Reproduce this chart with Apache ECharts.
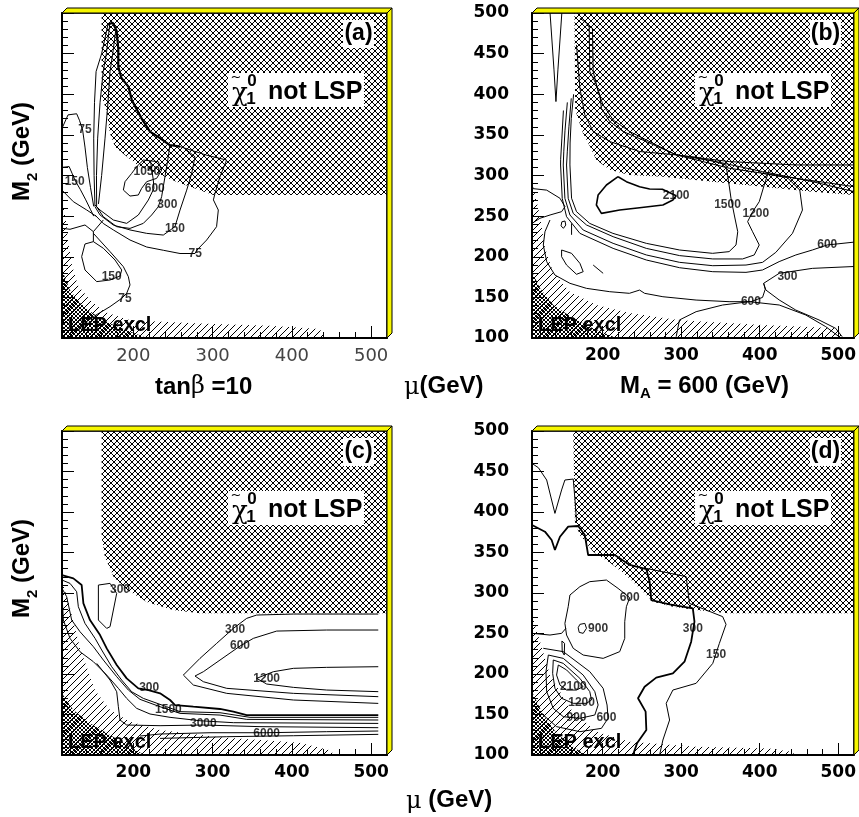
<!DOCTYPE html>
<html><head><meta charset="utf-8">
<script src="https://cdn.jsdelivr.net/npm/echarts@6/dist/echarts.min.js"></script>
<style>html,body{margin:0;padding:0;background:#fff;}#c{width:859px;height:817px;}</style>
</head><body><div id="c"></div>
<script>
// ---------- axes ----------
const X_RANGE = [110, 520];
const Y_RANGE = [100, 500];
const xMajor = [200, 300, 400, 500];
const xMinor = [120,140,160,180,220,240,260,280,320,340,360,380,420,440,460,480];
const yInterval = 50;
const panelTags = ['(a)', '(b)', '(c)', '(d)'];

// ---------- panel (a) ----------
const aLSP = [[160,500],[160,397],[166,381],[170.5,352],[177,335],[192,323],[208,311],[229,303],[255,292],[284,282],[301,276],[520,276],[520,500]];
const aLEPhatch = [[110,100],[110,274],[115,245],[117.6,221],[122.6,190],[130,165],[145,147],[164,132],[196,122],[284,118],[372,115],[435,111],[442,100]];
const aLEPdense = [[110,100],[110,184],[120,159],[132.7,143],[149.6,130],[170.6,118],[195.8,108],[217,100]];
const aThick = [[168,486],[174,488],[179,478],[181,456],[181,434],[185,420],[194,409],[198,393],[210.5,370],[221,354],[233.6,346],[246,337.5],[259,335.5]];
const a75outer = [[259,335.5],[292.5,325],[317.7,319],[309.3,298.5],[303,278],[301,270],[307.2,257.5],[305,237],[292.5,220.6],[280,208],[277.8,204],[258.9,204],[237.8,208],[216.8,212],[195.8,220.6],[174.8,233],[162,241],[151.6,251.4]];
const a150 = [[267.3,331.4],[277.8,323],[273.6,302.6],[267.3,282],[258.9,257.5],[252.5,237],[237.8,226.7],[216.8,228.8],[195.8,233],[174.8,239],[158,251.4],[151.6,261.6]];
const a300 = [[246,337.5],[244.1,323.2],[239.9,298.5],[235.7,273.9],[231.5,261.6],[223.1,251.4],[212.6,241.1],[195.8,234.9],[179,237],[162.1,249.3],[153.7,261.6]];
const a600 = [[221.8,317],[225.2,294.4],[226,284.2],[218.9,269.8],[206.3,251.4],[191.6,241.1],[174.8,245.2],[158,257.5],[151.6,263.7]];
const a1050 = [[212.6,319],[204.2,310.8],[197.9,302.6],[189.5,292.4],[187.4,282.1],[195.8,274.7],[206.3,276],[210.5,284.2],[216.8,292.4],[229.4,296.5],[235.7,306.7],[231.5,317],[212.6,319]];
const aV1 = [[168,486],[160,450],[153,428],[151,390],[150,346],[150.5,300],[151.6,262]];
const aV2 = [[170,484],[166,450],[162,428],[158,390],[155,346],[153.5,300],[153.7,262]];
const aV3 = [[178,480],[174,450],[170.6,428],[168,390],[164.3,346],[160,300],[156,265]];
const a75ul = [[110,358],[117.6,374.6],[128.5,376],[132,368],[136,356],[139,335],[142,310],[146,285],[150,262]];
const a150left = [[110,310],[119,311],[123,302],[127,293],[133,283],[140,270],[146,258],[150,250]];
const aLeftDiag = [[110,282],[124.3,267.8],[141.1,257.6],[153.8,249.4]];
const aX1 = [[110,235],[120.1,233.8],[139,239.1],[149.6,230.9],[162.2,245.3]];
const aX2 = [[149.6,230.9],[149.6,218.6]];
const a150low = [[149.6,218.6],[139,215.7],[134.8,200.1],[139,183.7],[153.8,169.4],[170.6,171.4],[183.2,176.3],[185.3,183.7],[176.9,196],[162.2,210.4],[149.6,218.6]];
const a75low = [[149.6,228.8],[170.6,206.3],[187.4,187.8],[193.7,175.5],[195.8,165.3],[191.6,155],[185.3,148.8],[170.6,138.6],[149.6,126.3],[132.7,114]];
const aLabels = [[278,204,'75'],[252.5,235,'150'],[242.9,264.5,'300'],[227,284,'600'],[217,305,'1050'],[139,356,'75'],[126,293,'150'],[172.7,175,'150'],[189.5,148,'75']];

// ---------- panel (b) ----------
const bLSP = [[164,500],[165,381],[175,352],[184,335.5],[192,319],[209,307],[234,300.6],[277,298.6],[340,292.4],[404,286.2],[467,280],[520,276],[520,500]];
const bLEPhatch = [[110,100],[110,292],[120,251],[126.5,211],[136.6,181.6],[158,157],[192,140.6],[234,130.8],[298,122],[403,116],[500,112],[505,100]];
const bLEPdense = [[110,100],[110,181.6],[120.2,161.1],[137.1,140.6],[162.5,124.2],[192.1,109.8],[217.5,100]];
const bSpike = [[133,500],[138,430],[140.5,391],[143,430],[148,500]];
const bh1 = [[171,493.5],[182.8,485.3],[183.6,428],[192.1,411.5],[196.3,399.2],[198.4,382.7],[209,366.4],[226,354.1],[255.6,341.8],[293.6,325.4],[361.3,317.1],[445.9,313],[520,313]];
const bh2 = [[179.4,485.3],[187,481.2],[187.9,428],[194.2,403.3],[200.6,386.8],[213.3,368.4],[234.4,354.1],[268.2,337.6],[293.6,325.4],[361.3,308.9],[445.9,296.6],[520,286.3]];
const bh3 = [[166.7,460.7],[171,407.4],[177.3,374.6],[187.9,354.1],[209,341.8],[247.1,329.5],[293.6,325.4],[344.4,317.1],[403.6,304.8],[467,292.5],[520,280.2]];
const bU1500 = [[163,400],[160,370],[158.5,340],[158.3,313],[160.4,272],[166.7,255.5],[183.6,241],[213,228.8],[255.6,216.5],[298,208.3],[340,204.2],[361,206.3],[369.8,214.5],[372,230.8],[367.6,251.4],[363.4,272],[361,288.3],[357,312.9],[340,318],[320,322],[293.6,325.4]];
const bU1200 = [[160,395],[157,360],[155,330],[154,312.9],[156.1,271.9],[162.5,253.4],[179.4,239.1],[213.3,224.7],[255.6,210.3],[298,201.4],[340.2,197.3],[378.2,197.3],[393,202.2],[399.4,214.5],[390.9,230.8],[384.6,243.2],[391,255.5],[399.4,267.8],[405.7,288.3],[412,306.7]];
const bU900 = [[155,390],[152,355],[150.5,330],[149.8,312.9],[151.9,271.9],[158.3,251.4],[175.2,232.9],[213.3,216.5],[255.6,202.2],[298,193.1],[340.2,189],[382.5,189.8],[403.6,193.1],[420.5,205.4],[441.7,228.8],[454.4,257.5],[451,282.1],[435.3,297.3],[403.6,302.6]];
const b600up = [[150,380],[148,345],[146.5,320],[146.4,312.9],[148.5,271.9],[154,249.3],[171,228.8],[213.3,210.3],[255.6,196],[298,186.5],[340.2,181.6],[382.5,180.8],[403.6,183.7],[424.7,194],[446,202.2],[467,208.3],[486,214.5],[520,218]];
const b2100 = [[219.6,298.5],[230.2,292.4],[247,286.2],[259.8,283.4],[276,283],[293.6,275.2],[289.4,269.8],[276.7,263.7],[247,260.4],[221.7,257.5],[198.4,253.4],[192,263.7],[194.2,276],[204.8,288.3],[219.6,298.5]];
const bLeftLoop = [[110,284],[128.7,282],[145.6,272],[152,261.6],[147.7,255.5],[133,251.4],[120,247.3],[110,241]];
const bTinyOval = [[148,243],[152,244],[153,239],[150,235],[147,238],[148,243]];
const bDash1 = [[160.4,241],[160.4,227]];
const bOval = [[147.7,208.3],[160.4,204.2],[171,191.9],[175.2,181.6],[166.7,178.4],[154,189.8],[147.7,200.1],[147.7,208.3]];
const bDash2 = [[187.9,189.8],[200.6,179.6]];
const bMid = [[132.9,245.2],[126.5,230.8],[124.4,214.4],[128.7,194],[139.2,177.5],[158.3,167.3],[179.4,161.1],[209,157],[234,155],[247,159],[253.4,155],[276.7,150.8],[319,146.7],[361,144.7],[388.8,144.7],[403.6,150],[407,160],[405,167.3]];
const b300 = [[405,167.3],[424.8,179.6],[467,185.7],[520,188]];
const b300low = [[405,167.3],[407.8,159.1],[424.8,146.8],[445.9,134.4],[475.5,122.2],[496.7,111.9],[505,101.6]];
const b600low = [[293.6,101.6],[297.8,122.2],[319,132.4],[352.8,140.6],[386.7,144.7],[424.8,140.6],[458.6,128.3],[484,114],[501,101.6]];
const bLabels = [[293.6,275.2,'2100'],[359,263.7,'1500'],[395,253.4,'1200'],[486,214.5,'600'],[435.3,175.5,'300'],[388.8,144.7,'600']];

// ---------- panel (c) ----------
const cLSP = [[160,500],[160,369.5],[164,345],[175,320],[192,304],[217,289],[250,279],[284,275],[520,275],[520,500]];
const cLEPhatch = [[110,100],[110,316],[120,281.7],[132.7,232],[151.6,180],[170.5,155.6],[196,141],[233.6,131],[309,122],[410,115],[448,106],[454,100]];
const cLEPdense = [[110,100],[110,176],[124.3,155.5],[145.3,139.1],[170.6,124.7],[195.8,110.3],[214,100]];
const c1 = [[110,322],[124.3,318.1],[134.8,309.8],[137,287.2],[145.3,266.6],[158,248.1],[166.4,231.6],[179,211.1],[191.6,194.6],[206.3,182.3],[219,180.2],[233.7,176.1],[246.3,167.9],[252.6,161.7],[275.7,159.6],[309.3,156.8],[326.2,153.5],[343,149.3],[509,149.3]];
const c2 = [[110,316],[120.1,311.9],[128.5,301.6],[130.6,283.1],[139,262.5],[151.7,244],[160.1,229.6],[172.7,209],[185.3,192.5],[197.9,178.1],[212.6,169.9],[242,159.6],[258.9,153.5],[309.3,152.2],[347.2,146.5],[509,146.5]];
const c3 = [[110,305.7],[115.9,295.4],[122.2,266.6],[132.7,252.2],[149.6,233.7],[162.2,217.2],[179,196.7],[193.7,180.2],[208.4,168.7],[233.7,159.6],[258.9,151.4],[309.3,149.3],[343,144],[509,143.2]];
const c4 = [[110,297.5],[111.7,266.6],[120.1,244],[132.7,227.5],[149.6,215.2],[166.4,198.7],[181.1,182.3],[191.6,169.9],[204.2,157.6],[221,150.6],[246.3,146.5],[284.1,142.3],[326.2,139.9],[509,139]];
const c3000 = [[153.8,213.1],[170.6,192.5],[179,178.1],[181.1,159.6],[183.2,143.2],[191.6,137],[233.7,136.2],[288.3,137],[359.8,135],[509,133.7]];
const c6000 = [[208.4,123.4],[233.7,125.9],[296.7,127.5],[368.2,127.5],[443.9,128.8],[509,129.6]];
const c6000b = [[233.7,120.5],[317.8,122.6],[401.9,123.8],[509,125.5]];
const c300loop = [[155.9,309.8],[170.6,311.9],[179,299.5],[174.8,279],[170.6,258.4],[166.4,256.3],[155.9,266.6],[155.9,309.8]];
const c300 = [[509,274],[401.9,274],[355.6,272.8],[343,268.7],[326.2,256.3],[305.1,237.8],[284.1,219.3],[263.1,198.7],[275.7,186.4],[317.8,176.1],[401.9,167.9],[509,163.7]];
const c600 = [[509,254.3],[443.9,254.3],[380.8,253],[351.4,244],[334.6,234.5],[309.3,217.2],[288.3,202.8],[277.8,197.5],[288.3,190.5],[317.8,182.3],[401.9,176.1],[509,172]];
const c1200 = [[509,209],[443.9,208.2],[401.9,207],[376.6,202.8],[355.6,194.6],[368.2,187.6],[401.9,183.5],[443.9,180.2],[509,178.2]];
const cLabels = [[183.2,304.5,'300'],[328.3,254.3,'300'],[334.6,234.5,'600'],[368.2,194.6,'1200'],[220,182.5,'300'],[244.2,155.5,'1500'],[288.3,138.2,'3000'],[368.2,126.7,'6000']];

// ---------- panel (d) ----------
const dLSP = [[162.5,500],[164.6,388],[171,371.6],[187.9,351],[213.3,334.6],[234.4,318],[255.6,297.5],[264,289.3],[289.4,283],[319,279],[360,275],[520,275],[520,500]];
const dLEPhatch = [[110,100],[110,273],[120.2,240],[132.9,198.7],[158.3,157.6],[192.1,128.8],[234.4,116.4],[319,110.3],[412,108],[440,104],[446,100]];
const dLEPdense = [[110,100],[110,178],[124.4,149.4],[141.3,126.7],[162.5,110.3],[178,100]];
const dSpike = [[110,460],[118.1,454.7],[128.7,439.5],[139.2,398.3],[147.7,427.2],[151.9,439.5],[162.5,440.7],[164.6,416.9],[166.7,388.1]];
const d300 = [[110,383.9],[126.5,375.7],[135,365.4],[139.2,353.1],[145.6,369.5],[156.1,381.9],[168.8,382.7],[177.3,371.6],[181.5,346.9],[215.4,346.9],[234.4,334.6],[255.6,329.6],[259.8,314],[261.9,291.3],[285.2,286],[314.8,281],[316.9,264.6],[312.7,239.9],[304.2,215.2],[289.4,200.8],[268.2,195.5],[253.4,184.3],[245,170],[254.7,153.5],[255.6,130.8],[243.7,114.4],[238.6,100]];
const d150 = [[255.6,330.4],[306.3,320.2],[310.5,287.2],[352.8,270.8],[357.1,261.3],[348.6,237.8],[340.2,213.1],[319,188.5],[289.4,180.2],[280.9,163.8],[285.2,143.2],[276.7,118.5],[272.5,100]];
const d600loop = [[158.3,297.5],[171,307.8],[183.6,314],[204.8,316],[219.6,305.7],[234.4,294.2],[230.2,283.1],[228.1,264.6],[228.1,244],[221.7,227.6],[200.6,219.3],[175.2,223.4],[162.5,231.7],[154,248.1],[151.9,262.5],[156.1,283.1],[158.3,297.5]];
const d900small = [[171,261.3],[177.3,262.5],[179.4,256.4],[175.2,250.2],[170.1,251.4],[168.8,257.2],[171,261.3]];
const dLeftLine = [[110,250.2],[132.9,248.1],[147.7,250.2],[153.2,256.4]];
const dTiny = [[148.1,240.7],[151.5,237.8],[151.1,223.4],[148.5,227.5],[148.1,240.7]];
const d2100 = [[143.5,211.1],[154,205],[166.7,192.6],[175.2,184.4],[166.7,180.2],[154,180.2],[145.6,186.4],[141.3,198.7],[143.5,211.1]];
const d1200 = [[137.1,217.3],[149.8,213.1],[171,194.6],[183.6,178.2],[185.8,167.9],[179.4,163.8],[162.5,163.8],[147.7,170],[139.2,182.3],[136.3,200.8],[137.1,217.3]];
const d900l = [[130.8,223.4],[149.8,219.3],[175.2,198.7],[190,178.2],[194.2,161.7],[190,149.4],[171,145.3],[149.8,147.3],[137.1,157.6],[128.7,178.2],[127.8,202.9],[130.8,223.4]];
const d600l = [[124.4,231.7],[149.8,227.6],[183.6,202.9],[200.6,182.3],[205.6,161.7],[206.9,145.3],[198.4,132.9],[171,128.8],[141.3,135],[124.4,149.4]];
const dLabels = [[234.4,294.2,'600'],[194.2,255.5,'900'],[314.8,255.5,'300'],[344.4,224.3,'150'],[162.5,184.4,'2100'],[173.1,165,'1200'],[166.7,146.1,'900'],[204.8,146.1,'600']];

// ---------- panel assembly ----------
const panels = [
  {lsp:aLSP, lepH:aLEPhatch, lepD:aLEPdense, labels:aLabels,
   thin:[a75outer,a150,a300,a600,a1050,aV1,aV2,aV3,a75ul,a150left,aLeftDiag,aX1,aX2,a150low,a75low],
   thick:[[aThick,2.2]]},
  {lsp:bLSP, lepH:bLEPhatch, lepD:bLEPdense, labels:bLabels,
   thin:[bSpike,bh1,bh2,bh3,bU1500,bU1200,bU900,b600up,bLeftLoop,bTinyOval,bDash1,bOval,bDash2,bMid,b300,b300low,b600low],
   thick:[[b2100,1.6]]},
  {lsp:cLSP, lepH:cLEPhatch, lepD:cLEPdense, labels:cLabels,
   thin:[c2,c3,c4,c3000,c6000,c6000b,c300loop,c300,c600,c1200],
   thick:[[c1,1.8]]},
  {lsp:dLSP, lepH:dLEPhatch, lepD:dLEPdense, labels:dLabels,
   thin:[dSpike,d150,d600loop,d900small,dLeftLine,dTiny,d2100,d1200,d900l,d600l],
   thick:[[d300,1.8]]}
];

const grids = [
  {left:62, top:13, width:325, height:325},
  {left:532, top:13, width:323, height:325},
  {left:62, top:431, width:325, height:324},
  {left:532, top:431, width:323, height:324}
];

const SANS = '"Liberation Sans", Arial, Helvetica, sans-serif';
const SERIF = '"DejaVu Serif", serif';

// crisp pixel hatch tiles
function hatchPattern(size, dirs) {
  const c = document.createElement('canvas'); c.width = size; c.height = size;
  const g = c.getContext('2d'); g.fillStyle = '#000';
  for (const d of dirs) for (let k = 0; k < size; k++) {
    if (d === '/') g.fillRect(k, size - 1 - k, 1, 1);
    else g.fillRect(k, k, 1, 1);
  }
  return {image: c, repeat: 'repeat'};
}
const PAT_LSP = hatchPattern(6, ['/', '\\']);
const PAT_LEP = hatchPattern(7, ['/']);
const PAT_DENSE = hatchPattern(4, ['/', '\\']);

const mctx = document.createElement('canvas').getContext('2d');
function textWidth(t, f) { mctx.font = f; return mctx.measureText(t).width; }
function textRun(parts) {
  let cx = 0;
  return parts.map(([t, f, dy]) => {
    const el = {type:'text', x:cx, y:dy || 0, style:{text:t, font:f, fill:'#000', verticalAlign:'middle'}};
    cx += textWidth(t, f);
    return el;
  });
}

const xAxes = [], yAxes = [], series = [];
grids.forEach((g, i) => {
  const lbl = i === 0
    ? {color:'#444', fontFamily:'DejaVu Sans', fontSize:18, fontWeight:'normal'}
    : {color:'#000', fontFamily:'DejaVu Sans', fontSize:17, fontWeight:'bold'};
  xAxes.push({gridIndex:i, type:'value', min:X_RANGE[0], max:X_RANGE[1], position:'bottom',
    axisLine:{show:true, onZero:false, lineStyle:{color:'#000', width:2}},
    axisTick:{show:true, inside:true, length:12, customValues:xMajor, lineStyle:{color:'#000', width:1}},
    axisLabel:Object.assign({show:true, customValues:xMajor, margin:9}, lbl),
    splitLine:{show:false}});
  xAxes.push({gridIndex:i, type:'value', min:X_RANGE[0], max:X_RANGE[1], position:'bottom',
    axisLine:{show:false},
    axisTick:{show:true, inside:true, length:6, customValues:xMinor, lineStyle:{color:'#000', width:1}},
    axisLabel:{show:false}, splitLine:{show:false}});
  yAxes.push({gridIndex:i, type:'value', min:Y_RANGE[0], max:Y_RANGE[1], interval:yInterval, position:'left',
    axisLine:{show:true, onZero:false, lineStyle:{color:'#000', width:2}},
    axisTick:{show:true, inside:true, length:12, lineStyle:{color:'#000', width:1}},
    minorTick:{show:true, splitNumber:5, length:6, lineStyle:{color:'#000', width:1}},
    axisLabel:{show:i % 2 === 1, margin:23, color:'#000', fontFamily:'DejaVu Sans', fontSize:17, fontWeight:'bold'},
    splitLine:{show:false}, minorSplitLine:{show:false}});
});

function polySeries(i, pts, pat) {
  return {type:'custom', xAxisIndex:2*i, yAxisIndex:i, z:1, silent:true, animation:false,
    data:[[X_RANGE[0], Y_RANGE[0]]],
    renderItem:(params, api) => ({type:'polygon', shape:{points:pts.map(p => api.coord(p))},
      style:{fill:pat, stroke:null}})};
}
function lineSeries(i, pts, w) {
  return {type:'line', xAxisIndex:2*i, yAxisIndex:i, data:pts, showSymbol:false, symbol:'none',
    lineStyle:{color:'#000', width:w}, z:3, silent:true, animation:false};
}
function overlaySeries(i) {
  const tag = panelTags[i];
  return {type:'custom', xAxisIndex:2*i, yAxisIndex:i, z:10, silent:true, animation:false,
    data:[[X_RANGE[0], Y_RANGE[0]]],
    renderItem:(params, api) => {
      const p0 = api.coord([X_RANGE[0], Y_RANGE[0]]);
      const p1 = api.coord([X_RANGE[1], Y_RANGE[1]]);
      const x0 = p0[0], y1 = p0[1], x1 = p1[0], y0 = p1[1];
      const d = 5, bx = x1 - 159, by = y0 + 60;
      const B = 'bold ';
      return {type:'group', children:[
        {type:'rect', shape:{x:bx, y:by, width:136, height:34}, style:{fill:'#fff'}},
        {type:'text', x:bx + 12, y:by + 21, style:{text:'χ', font:'26px ' + SERIF, fill:'#000', align:'center', verticalAlign:'middle'}},
        {type:'text', x:bx + 8, y:by + 5, style:{text:'~', font:'13px "DejaVu Sans"', fill:'#000', align:'center', verticalAlign:'middle'}},
        {type:'text', x:bx + 24, y:by + 8, style:{text:'0', font:B + '17px ' + SANS, fill:'#000', align:'center', verticalAlign:'middle'}},
        {type:'text', x:bx + 23, y:by + 26, style:{text:'1', font:B + '17px ' + SANS, fill:'#000', align:'center', verticalAlign:'middle'}},
        {type:'text', x:bx + 40, y:by + 19, style:{text:'not LSP', font:B + '25px ' + SANS, fill:'#000', verticalAlign:'middle'}},
        {type:'rect', shape:{x:x1 - 44, y:y0 + 7, width:31, height:28}, style:{fill:'#fff'}},
        {type:'text', x:x1 - 28.5, y:y0 + 21, style:{text:tag, font:B + '23px ' + SANS, fill:'#000', align:'center', verticalAlign:'middle'}},
        {type:'text', x:x0 + 6, y:y1 - 13, style:{text:'LEP excl', font:B + '20px ' + SANS, fill:'#000', verticalAlign:'middle'}},
        {type:'rect', shape:{x:x0, y:y0, width:x1 - x0, height:y1 - y0}, style:{fill:null, stroke:'#000', lineWidth:1.5}},
        {type:'polygon', shape:{points:[[x0, y0], [x0 + d, y0 - d], [x1 + d, y0 - d], [x1, y0]]}, style:{fill:'#f6f600', stroke:'#000', lineWidth:1}},
        {type:'polygon', shape:{points:[[x1, y0], [x1 + d, y0 - d], [x1 + d, y1 - d], [x1, y1]]}, style:{fill:'#f6f600', stroke:'#000', lineWidth:1}}
      ]};
    }};
}

panels.forEach((p, i) => {
  series.push(polySeries(i, p.lepH, PAT_LEP));
  series.push(polySeries(i, p.lepD, PAT_DENSE));
  series.push(polySeries(i, p.lsp, PAT_LSP));
  p.thin.forEach(l => series.push(lineSeries(i, l, 1)));
  p.thick.forEach(([l, w]) => series.push(lineSeries(i, l, w)));
  series.push({type:'scatter', xAxisIndex:2*i, yAxisIndex:i, z:4, silent:true, animation:false,
    symbolSize:1, itemStyle:{color:'rgba(0,0,0,0)'},
    data:p.labels.map(l => ({value:[l[0], l[1]], name:l[2]})),
    label:{show:true, position:'inside', formatter:'{b}', color:'#000', fontSize:12, fontWeight:'bold', fontFamily:'Liberation Sans'}});
  series.push(overlaySeries(i));
});

const B24 = 'bold 24px ' + SANS;
const graphic = [
  {type:'group', x:22, y:201, rotation:Math.PI / 2, children:textRun([['M', B24, 0], ['2', 'bold 15px ' + SANS, 11], [' (GeV)', B24, 0]])},
  {type:'group', x:22, y:618, rotation:Math.PI / 2, children:textRun([['M', B24, 0], ['2', 'bold 15px ' + SANS, 11], [' (GeV)', B24, 0]])},
  {type:'group', x:155, y:387, children:textRun([['tan', B24, 0], ['β', '24px ' + SERIF, 0], [' =10', B24, 0]])},
  {type:'group', x:404, y:386, children:textRun([['μ', '24px ' + SERIF, 2], ['(GeV)', B24, 0]])},
  {type:'group', x:620, y:386, children:textRun([['M', B24, 0], ['A', 'bold 15px ' + SANS, 8], [' = 600 (GeV)', B24, 0]])},
  {type:'group', x:406, y:800, children:textRun([['μ', '24px ' + SERIF, 2], [' (GeV)', B24, 0]])}
];

const chart = echarts.init(document.getElementById('c'), null, {renderer:'canvas', width:859, height:817});
chart.setOption({
  animation:false,
  backgroundColor:'#fff',
  grid:grids,
  xAxis:xAxes,
  yAxis:yAxes,
  series:series,
  graphic:graphic
});
</script>
</body></html>
